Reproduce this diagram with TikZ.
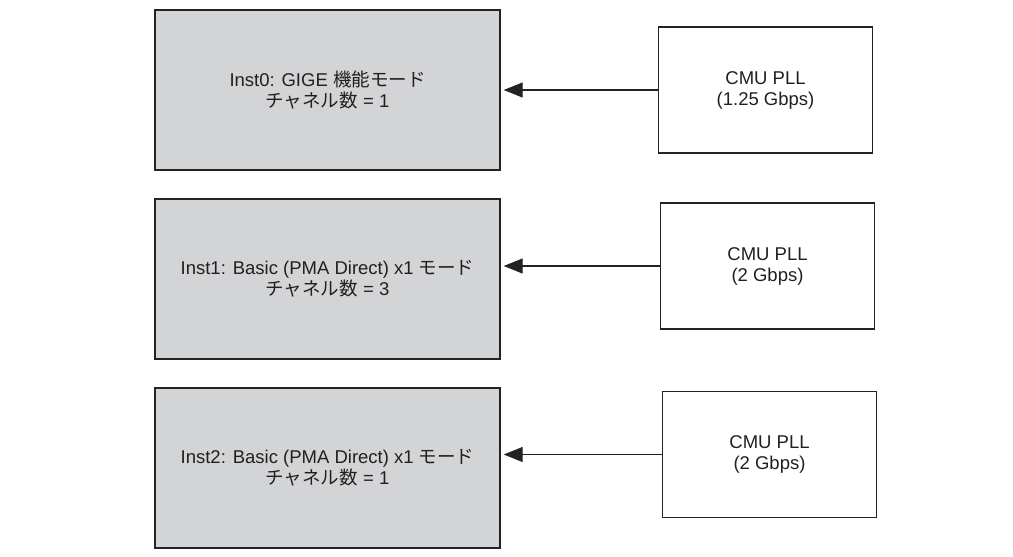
\documentclass[tikz,border=0pt]{standalone}
\usepackage{fontspec}
\setmainfont{Liberation Sans}
\newfontfamily\jp{Noto Sans CJK JP}
\usetikzlibrary{arrows.meta}
\definecolor{boxgray}{RGB}{211,212,214}
\definecolor{edgecol}{RGB}{35,35,35}
\definecolor{txtcol}{RGB}{35,31,32}
\begin{document}
\begin{tikzpicture}[x=1pt,y=-1pt,
  lbl/.style={font=\fontsize{18.5}{21}\selectfont, text=txtcol, align=center},
  instbox/.style={lbl, draw=edgecol, line width=1.4pt, fill=boxgray, inner sep=0pt,
    minimum width=345pt, minimum height=160pt},
  pllbox/.style={lbl, draw=edgecol, line width=1.4pt, fill=white, inner sep=0pt,
    minimum width=214pt, minimum height=126pt},
  feed/.style={draw=edgecol, line width=1.1pt, -{Triangle[length=19pt,width=15pt]}, shorten >=3pt}]
\useasboundingbox (0,0) rectangle (1013,557);
\fill[white] (0,0) rectangle (1013,557);

\node[instbox] (l1) at (327.5,90) {Inst0: GIGE {\jp 機能モード}\\{\jp チャネル数} = 1};
\node[instbox] (l2) at (327.5,279) {Inst1: Basic (PMA Direct) x1 {\jp モード}\\{\jp チャネル数} = 3};
\node[instbox] (l3) at (327.5,468) {Inst2: Basic (PMA Direct) x1 {\jp モード}\\{\jp チャネル数} = 1};

\node[pllbox] (r1) at (765.5,90) {CMU PLL\\(1.25 Gbps)};
\node[pllbox] (r2) at (767.5,266) {CMU PLL\\(2 Gbps)};
\node[pllbox] (r3) at (769.5,454.5) {CMU PLL\\(2 Gbps)};

\draw[feed] (r1.west) -- (r1.west -| l1.east);
\draw[feed] (r2.west) -- (r2.west -| l2.east);
\draw[feed] (r3.west) -- (r3.west -| l3.east);
\end{tikzpicture}
\end{document}
